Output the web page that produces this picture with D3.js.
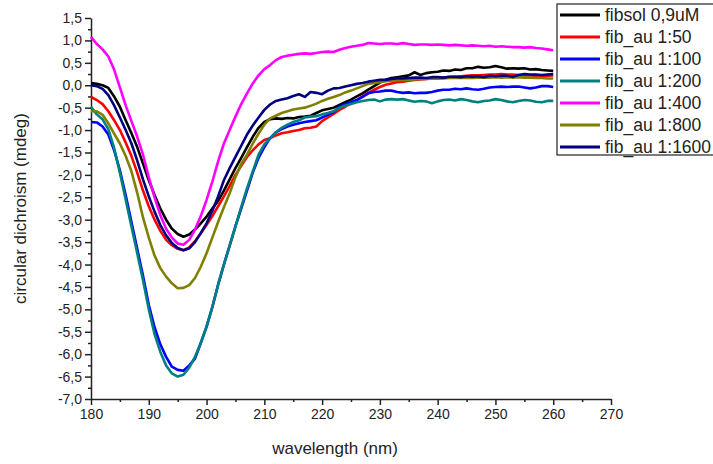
<!DOCTYPE html>
<html>
<head>
<meta charset="utf-8">
<script src="https://cdn.jsdelivr.net/npm/d3@7"></script>
<style>
  body { margin: 0; background: #fff; }
  text { font-family: Arial, "Liberation Sans", sans-serif; fill: #222; }
</style>
</head>
<body>
<div id="chart"></div>
<script>
// wavelength 180..260 nm, 1 nm step
var wavelength = d3.range(180, 261, 1);

var fibsol = [0.05, 0.03, 0.00, -0.06, -0.25, -0.48, -0.78, -1.07, -1.38, -1.75,
  -2.12, -2.45, -2.75, -3.00, -3.20, -3.32, -3.38, -3.33, -3.22, -3.08,
  -2.93, -2.75, -2.58, -2.35, -2.10, -1.85, -1.62, -1.38, -1.15, -0.95,
  -0.82, -0.76, -0.74, -0.75, -0.73, -0.74, -0.71, -0.70, -0.68, -0.62,
  -0.56, -0.53, -0.50, -0.44, -0.38, -0.32, -0.25, -0.18, -0.10, -0.02,
  0.06, 0.12, 0.16, 0.18, 0.20, 0.22, 0.29, 0.23, 0.27, 0.29,
  0.30, 0.33, 0.32, 0.35, 0.34, 0.38, 0.38, 0.41, 0.39, 0.40,
  0.43, 0.40, 0.37, 0.38, 0.37, 0.38, 0.35, 0.36, 0.34, 0.33, 0.32];

var au50 = [-0.26, -0.33, -0.42, -0.58, -0.78, -1.00, -1.28, -1.58, -1.95, -2.35,
  -2.70, -3.00, -3.25, -3.45, -3.57, -3.65, -3.68, -3.62, -3.48, -3.30,
  -3.12, -2.92, -2.70, -2.48, -2.25, -2.00, -1.80, -1.60, -1.45, -1.32,
  -1.22, -1.18, -1.12, -1.07, -1.05, -1.02, -1.00, -0.96, -0.95, -0.92,
  -0.80, -0.72, -0.64, -0.55, -0.48, -0.40, -0.33, -0.25, -0.17, -0.10,
  -0.04, 0.01, 0.04, 0.07, 0.08, 0.10, 0.12, 0.13, 0.14, 0.15,
  0.15, 0.17, 0.18, 0.19, 0.20, 0.21, 0.22, 0.22, 0.23, 0.24,
  0.24, 0.25, 0.24, 0.24, 0.23, 0.22, 0.22, 0.20, 0.20, 0.21, 0.22];

var au100 = [-0.82, -0.83, -0.92, -1.10, -1.45, -1.90, -2.45, -3.05, -3.65, -4.25,
  -4.90, -5.40, -5.78, -6.06, -6.28, -6.35, -6.37, -6.25, -6.10, -5.75,
  -5.39, -4.95, -4.45, -4.00, -3.58, -3.15, -2.75, -2.35, -1.95, -1.62,
  -1.38, -1.18, -1.05, -0.98, -0.92, -0.88, -0.85, -0.82, -0.80, -0.78,
  -0.72, -0.66, -0.60, -0.48, -0.42, -0.38, -0.33, -0.26, -0.18, -0.15,
  -0.14, -0.12, -0.12, -0.15, -0.17, -0.16, -0.18, -0.17, -0.17, -0.15,
  -0.12, -0.10, -0.10, -0.08, -0.09, -0.07, -0.09, -0.10, -0.08, -0.05,
  -0.04, -0.03, -0.04, -0.03, -0.03, -0.05, -0.07, -0.05, -0.02, -0.02, -0.04];

var au200 = [-0.48, -0.65, -0.76, -0.98, -1.40, -1.95, -2.55, -3.15, -3.75, -4.35,
  -5.00, -5.55, -5.95, -6.25, -6.43, -6.50, -6.46, -6.30, -6.06, -5.75,
  -5.38, -4.95, -4.45, -4.00, -3.58, -3.15, -2.72, -2.30, -1.92, -1.55,
  -1.32, -1.19, -1.05, -0.95, -0.88, -0.82, -0.78, -0.72, -0.70, -0.69,
  -0.65, -0.62, -0.58, -0.50, -0.46, -0.42, -0.38, -0.35, -0.33, -0.32,
  -0.36, -0.32, -0.31, -0.32, -0.31, -0.34, -0.37, -0.35, -0.36, -0.40,
  -0.36, -0.33, -0.32, -0.34, -0.31, -0.33, -0.36, -0.38, -0.35, -0.34,
  -0.31, -0.33, -0.36, -0.38, -0.35, -0.33, -0.34, -0.37, -0.38, -0.35, -0.35];

var au400 = [1.08, 0.92, 0.80, 0.64, 0.35, -0.05, -0.45, -0.80, -1.15, -1.55,
  -2.05, -2.50, -2.90, -3.20, -3.40, -3.53, -3.56, -3.45, -3.22, -2.92,
  -2.56, -2.15, -1.70, -1.30, -1.00, -0.70, -0.42, -0.18, 0.04, 0.22,
  0.36, 0.45, 0.56, 0.63, 0.66, 0.68, 0.70, 0.71, 0.70, 0.72,
  0.74, 0.75, 0.74, 0.79, 0.83, 0.86, 0.88, 0.90, 0.94, 0.93,
  0.92, 0.93, 0.93, 0.92, 0.94, 0.92, 0.90, 0.91, 0.91, 0.90,
  0.91, 0.90, 0.89, 0.90, 0.89, 0.88, 0.89, 0.88, 0.87, 0.88,
  0.86, 0.87, 0.86, 0.85, 0.85, 0.84, 0.85, 0.83, 0.82, 0.80, 0.78];

var au800 = [-0.58, -0.58, -0.66, -0.85, -1.08, -1.30, -1.58, -1.92, -2.40, -2.95,
  -3.40, -3.80, -4.08, -4.27, -4.42, -4.53, -4.52, -4.46, -4.30, -4.05,
  -3.75, -3.40, -3.05, -2.72, -2.41, -2.05, -1.75, -1.55, -1.30, -1.08,
  -0.88, -0.74, -0.68, -0.62, -0.58, -0.54, -0.52, -0.50, -0.46, -0.41,
  -0.35, -0.30, -0.26, -0.22, -0.16, -0.12, -0.07, -0.02, 0.03, 0.05,
  0.07, 0.09, 0.10, 0.11, 0.12, 0.12, 0.13, 0.14, 0.14, 0.15,
  0.15, 0.15, 0.16, 0.16, 0.16, 0.17, 0.16, 0.17, 0.17, 0.17,
  0.18, 0.17, 0.18, 0.17, 0.18, 0.17, 0.17, 0.16, 0.16, 0.15, 0.15];

var au1600 = [0.00, -0.02, -0.08, -0.22, -0.45, -0.72, -1.00, -1.30, -1.68, -2.10,
  -2.48, -2.82, -3.12, -3.35, -3.52, -3.63, -3.68, -3.64, -3.50, -3.30,
  -3.08, -2.80, -2.48, -2.12, -1.85, -1.60, -1.35, -1.10, -0.90, -0.72,
  -0.55, -0.43, -0.35, -0.32, -0.29, -0.24, -0.20, -0.26, -0.15, -0.17,
  -0.20, -0.12, -0.07, -0.06, -0.03, 0.00, 0.03, 0.05, 0.08, 0.10,
  0.12, 0.12, 0.14, 0.15, 0.15, 0.16, 0.17, 0.17, 0.16, 0.18,
  0.18, 0.17, 0.19, 0.19, 0.18, 0.20, 0.19, 0.20, 0.18, 0.21,
  0.20, 0.21, 0.21, 0.19, 0.23, 0.25, 0.24, 0.24, 0.23, 0.24, 0.25];

var seriesNames = ["fibsol 0,9uM", "fib_au 1:50", "fib_au 1:100", "fib_au 1:200",
  "fib_au 1:400", "fib_au 1:800", "fib_au 1:1600"];
var seriesValues = [fibsol, au50, au100, au200, au400, au800, au1600];
var seriesColors = ["#000000", "#ff0000", "#0000ff", "#008080", "#ff00ff", "#808000", "#000080"];

var xTicks = d3.range(180, 271, 10);
var yTicks = d3.range(-7, 1.51, 0.5);

var svgWidth = 713;
var svgHeight = 464;

var margin = { top: 18, right: 102, bottom: 65, left: 91 };
var width = svgWidth - margin.left - margin.right;
var height = svgHeight - margin.top - margin.bottom;

var svg = d3.select("#chart")
  .append("svg")
  .attr("width", svgWidth)
  .attr("height", svgHeight);

var chartGroup = svg.append("g")
  .attr("transform", `translate(${margin.left}, ${margin.top})`);

var xScale = d3.scaleLinear().domain([180, 270]).range([0, width]);
var yScale = d3.scaleLinear().domain([-7, 1.5]).range([height, 0]);

var fmt = function(d) { return d3.format(".1f")(d).replace(".", ",").replace("−", "-"); };

// minor ticks first, then major with labels
chartGroup.append("g")
  .attr("transform", `translate(0, ${height})`)
  .call(d3.axisBottom(xScale).tickValues(d3.range(185, 270, 10)).tickSize(3).tickFormat(""))
  .call(g => g.select(".domain").remove());

var bottomAxis = chartGroup.append("g")
  .attr("transform", `translate(0, ${height})`)
  .call(d3.axisBottom(xScale).tickValues(xTicks).tickSize(6).tickSizeOuter(0).tickPadding(4));

chartGroup.append("g")
  .call(d3.axisLeft(yScale).tickValues(d3.range(-6.75, 1.5, 0.5)).tickSize(3).tickFormat(""))
  .call(g => g.select(".domain").remove());

var leftAxis = chartGroup.append("g")
  .call(d3.axisLeft(yScale).tickValues(yTicks).tickSize(6).tickSizeOuter(0).tickPadding(3).tickFormat(fmt));

chartGroup.selectAll(".tick text")
  .attr("font-size", "14px")
  .attr("font-family", "Arial, 'Liberation Sans', sans-serif")
  .attr("fill", "#222");
chartGroup.selectAll(".domain, .tick line")
  .attr("stroke", "#222")
  .attr("stroke-width", 1.5);

// curves
var line = d3.line()
  .x((d, i) => xScale(wavelength[i]))
  .y(d => yScale(d));

chartGroup.selectAll(".curve")
  .data(seriesValues)
  .enter()
  .append("path")
  .attr("class", "curve")
  .attr("d", line)
  .attr("fill", "none")
  .attr("stroke", (d, i) => seriesColors[i])
  .attr("stroke-width", 2.6)
  .attr("stroke-linejoin", "round");

// axis titles
svg.append("text")
  .attr("x", 335)
  .attr("y", 454)
  .attr("text-anchor", "middle")
  .attr("font-size", "17px")
  .text("wavelength (nm)");

svg.append("text")
  .attr("transform", "rotate(-90)")
  .attr("x", -(margin.top + height / 2))
  .attr("y", 26)
  .attr("text-anchor", "middle")
  .attr("font-size", "17px")
  .text("circular dichroism (mdeg)");

// legend
var legend = svg.append("g");
legend.append("rect")
  .attr("x", 557)
  .attr("y", 4)
  .attr("width", 160)
  .attr("height", 151)
  .attr("fill", "#fff")
  .attr("stroke", "#222")
  .attr("stroke-width", 1.2);

var rows = legend.selectAll(".row")
  .data(seriesNames)
  .enter()
  .append("g")
  .attr("transform", (d, i) => `translate(0, ${15 + i * 22})`);

rows.append("line")
  .attr("x1", 560)
  .attr("x2", 600)
  .attr("stroke", (d, i) => seriesColors[i])
  .attr("stroke-width", 3);

rows.append("text")
  .attr("x", 605)
  .attr("y", 6)
  .attr("font-size", "17.5px")
  .text(d => d);
</script>
</body>
</html>
